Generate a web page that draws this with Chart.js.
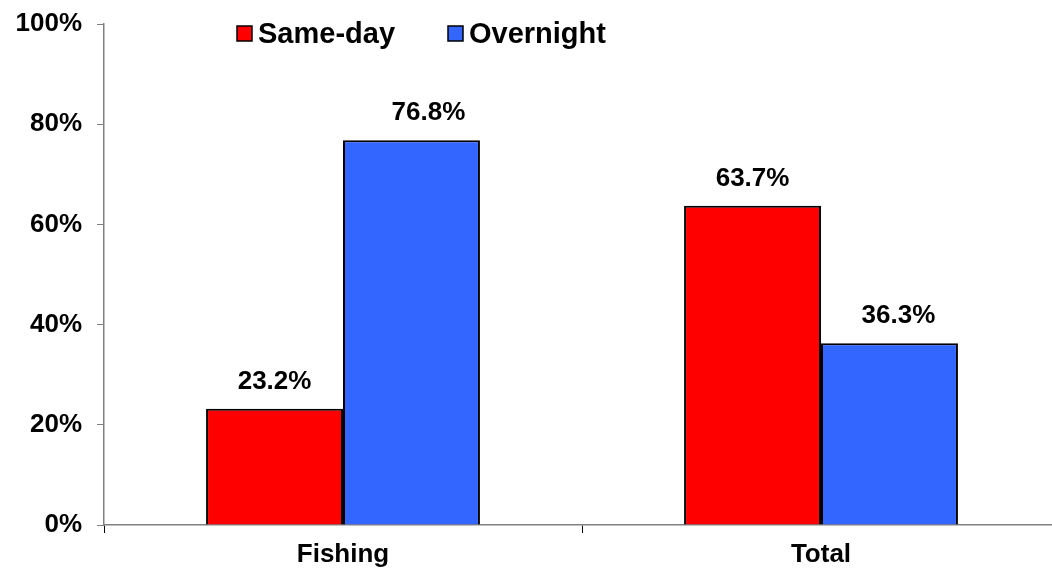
<!DOCTYPE html>
<html>
<head>
<meta charset="utf-8">
<script src="https://cdn.jsdelivr.net/npm/chart.js@4"></script>
<style>
  html, body { margin: 0; padding: 0; background: #fff; overflow: hidden; }
  #wrap { width: 1062px; height: 570px; }
</style>
</head>
<body>
<div id="wrap"><canvas id="chart"></canvas></div>
<script>
const categories = ["Fishing", "Total"];
const sameDay = [23.2, 63.7];
const overnight = [76.8, 36.3];
const yTicks = [0, 20, 40, 60, 80, 100];

const FONT = "'Liberation Sans', Arial, sans-serif";

// value labels above each bar (the Overnight ones sit a little to the right, as in the original)
const labelShift = [[0, 0], [17, 9]];
const barLabels = {
    id: "barLabels",
    afterDatasetsDraw(chart) {
        const ctx = chart.ctx;
        ctx.save();
        ctx.font = "bold 26px " + FONT;
        ctx.fillStyle = "#000";
        ctx.textAlign = "center";
        ctx.textBaseline = "middle";
        chart.data.datasets.forEach((ds, i) => {
            chart.getDatasetMeta(i).data.forEach((bar, j) => {
                ctx.fillText(ds.data[j].toFixed(1) + "%", bar.x + labelShift[i][j], bar.y - 27);
            });
        });
        ctx.restore();
    },
};

// legend inside the plot, near the top
const topLegend = {
    id: "topLegend",
    afterDraw(chart) {
        const ctx = chart.ctx;
        const starts = [237, 448];
        ctx.save();
        ctx.font = "bold 29px " + FONT;
        ctx.textBaseline = "middle";
        chart.data.datasets.forEach((ds, i) => {
            const x = starts[i];
            const y = 33.5;
            ctx.fillStyle = ds.backgroundColor;
            ctx.fillRect(x, y - 7.5, 15, 15);
            ctx.strokeStyle = "#000";
            ctx.lineWidth = 1.5;
            ctx.strokeRect(x, y - 7.5, 15, 15);
            ctx.fillStyle = "#000";
            ctx.fillText(ds.label, x + 21, y + 1);
        });
        ctx.restore();
    },
};

new Chart(document.getElementById("chart"), {
    type: "bar",
    data: {
        labels: categories,
        datasets: [
            {
                label: "Same-day",
                data: sameDay,
                backgroundColor: "#FF0000",
                borderColor: "#000",
                borderWidth: 2,
            },
            {
                label: "Overnight",
                data: overnight,
                backgroundColor: "#3366FF",
                borderColor: "#000",
                borderWidth: 2,
            },
        ],
    },
    options: {
        responsive: true,
        maintainAspectRatio: false,
        animation: false,
        layout: { padding: { top: 24, right: 2, left: 0, bottom: 0 } },
        datasets: { bar: { categoryPercentage: 0.573, barPercentage: 1.0 } },
        plugins: {
            legend: { display: false },
            tooltip: { enabled: false },
        },
        scales: {
            x: {
                grid: {
                    display: true,
                    drawOnChartArea: false,
                    drawTicks: true,
                    tickLength: 8,
                    color: "#000",
                    offset: true,
                },
                border: { color: "#808080", width: 1.5 },
                ticks: {
                    color: "#000",
                    font: { family: FONT, size: 26, weight: "bold" },
                    padding: 6,
                },
                afterFit: (s) => { s.height = 45; s.paddingLeft = 0; s.paddingRight = 0; },
            },
            y: {
                min: 0,
                max: 100,
                afterBuildTicks: (s) => { s.ticks = yTicks.map((v) => ({ value: v })); },
                grid: {
                    display: true,
                    drawOnChartArea: false,
                    drawTicks: true,
                    tickLength: 7,
                    color: "#808080",
                },
                border: { color: "#808080", width: 1.5 },
                ticks: {
                    color: "#000",
                    font: { family: FONT, size: 26, weight: "bold" },
                    padding: 15,
                    callback: (v) => v + "%",
                },
                afterFit: (s) => { s.width = 104; s.paddingTop = 0; s.paddingBottom = 0; },
            },
        },
    },
    plugins: [barLabels, topLegend],
});
</script>
</body>
</html>
